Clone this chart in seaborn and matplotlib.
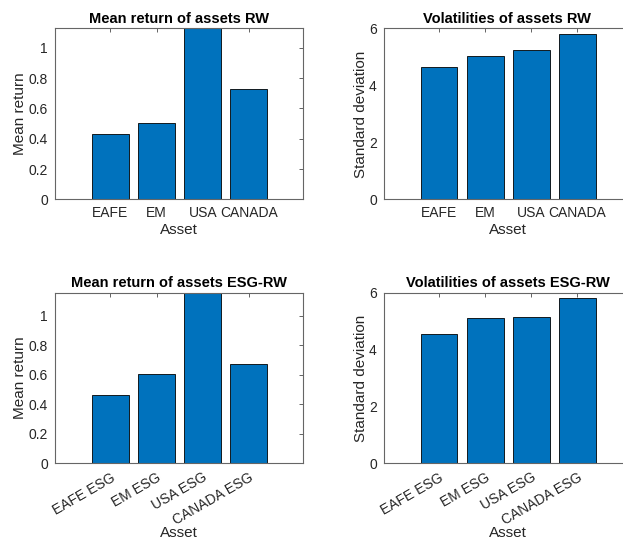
import numpy as np
import pandas as pd
import seaborn as sns
import matplotlib.pyplot as plt
from matplotlib.ticker import FuncFormatter

# data
assets_rw = ["EAFE", "EM", "USA", "CANADA"]
assets_esg = ["EAFE ESG", "EM ESG", "USA ESG", "CANADA ESG"]
mean_rw = [0.435, 0.505, 1.20, 0.73]
vol_rw = [4.65, 5.02, 5.26, 5.82]
mean_esg = [0.463, 0.607, 1.20, 0.67]
vol_esg = [4.56, 5.12, 5.13, 5.83]

sns.set_style("white")
plt.rcParams['font.family'] = ['Liberation Sans', 'DejaVu Sans']

fig = plt.figure(figsize=(6.23, 5.42), dpi=100)

bar_color = "#0072BD"
axis_color = "#262626"

# axes boxes in figure fractions (left, bottom, width, height)
boxes = [
    (0.0883, 0.632, 0.398, 0.3155),
    (0.616, 0.632, 0.397, 0.3155),
    (0.0883, 0.145, 0.398, 0.315),
    (0.616, 0.145, 0.397, 0.315),
]

panels = [
    (assets_rw, mean_rw, "Mean return of assets RW", "Mean return", (0, 1.128), [0, 0.2, 0.4, 0.6, 0.8, 1], 0),
    (assets_rw, vol_rw, "Volatilities of assets RW", "Standard deviation", (0, 6), [0, 2, 4, 6], 0),
    (assets_esg, mean_esg, "Mean return of assets ESG-RW", "Mean return", (0, 1.156), [0, 0.2, 0.4, 0.6, 0.8, 1], 30),
    (assets_esg, vol_esg, "Volatilities of assets ESG-RW", "Standard deviation", (0, 6), [0, 2, 4, 6], 30),
]

for box, (cats, vals, title, ylab, ylim, yticks, rot) in zip(boxes, panels):
    ax = fig.add_axes(box)
    df = pd.DataFrame({"Asset": cats, "value": vals})
    sns.barplot(data=df, x="Asset", y="value", color=bar_color, saturation=1,
                edgecolor="black", linewidth=0.6, width=0.8, ax=ax)
    ax.set_xlim(-1.2, 4.17)
    ax.set_ylim(*ylim)
    ax.set_yticks(yticks)
    ax.yaxis.set_major_formatter(FuncFormatter(lambda v, p: f"{v:g}"))
    ax.set_title(title, fontsize=10.5, fontweight="bold", pad=4, color="black")
    ax.set_ylabel(ylab, fontsize=11, color=axis_color, labelpad=1)
    ax.set_xlabel("Asset", fontsize=11, color=axis_color, labelpad=-1.5 if rot else 2)
    ax.tick_params(direction="in", length=3, width=0.5, top=True, right=True,
                   labelsize=10, colors=axis_color, pad=5)
    if rot:
        plt.setp(ax.get_xticklabels(), rotation=rot, ha="right", rotation_mode="anchor")
    for s in ax.spines.values():
        s.set_color("#666666")
        s.set_linewidth(0.8)

fig.savefig("out.png", dpi=100)
